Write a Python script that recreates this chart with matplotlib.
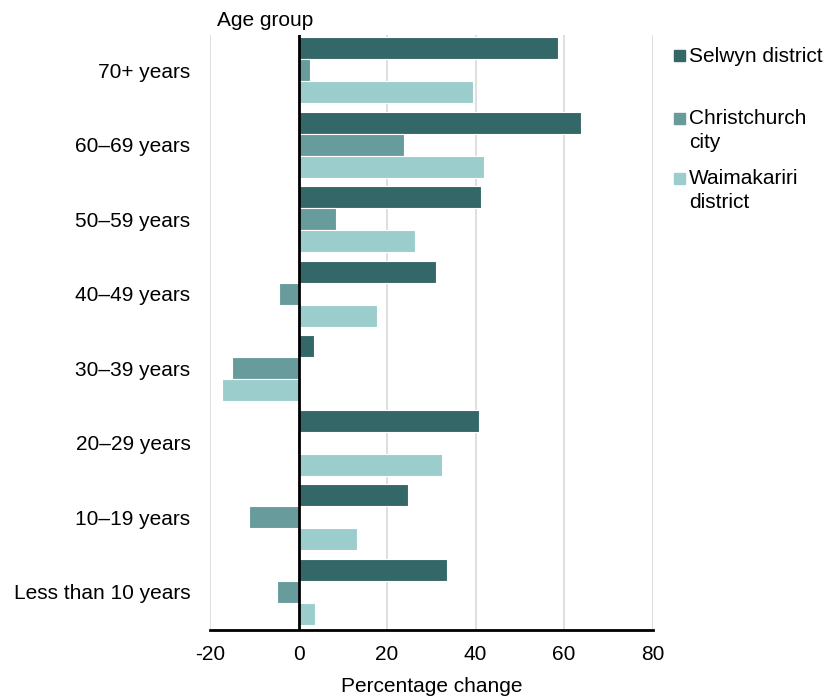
import matplotlib.pyplot as plt
from matplotlib.patches import Rectangle
import numpy as np

plt.rcParams['font.family'] = ['Liberation Sans', 'DejaVu Sans']
plt.rcParams['axes.unicode_minus'] = False

# Данные (снизу вверх)
age_groups = ["Less than 10 years", "10–19 years", "20–29 years", "30–39 years",
              "40–49 years", "50–59 years", "60–69 years", "70+ years"]
selwyn = [33.5, 24.7, 40.7, 3.5, 31.0, 41.2, 63.8, 58.6]
christchurch = [-4.9, -11.2, -0.3, -15.0, -4.4, 8.5, 23.8, 2.6]
waimakariri = [3.7, 13.2, 32.4, -17.3, 17.7, 26.3, 41.9, 39.4]

series_names = ["Selwyn district", "Christchurch\ncity", "Waimakariri\ndistrict"]
colors = ["#346767", "#689b9b", "#9bcdcd"]

FS = 15

fig = plt.figure(figsize=(8.27, 7.0), dpi=100)
ax = fig.add_axes([0.254, 0.1, 0.535, 0.85])

y = np.arange(len(age_groups))
h = 0.295
for vals, off, c in zip([selwyn, christchurch, waimakariri], [h, 0, -h], colors):
    ax.barh(y + off, vals, height=h, color=c, edgecolor="white", linewidth=0.8, zorder=2)

ax.set_xlim(-20, 80)
ax.set_ylim(-0.51, 7.47)
ax.set_xticks([-20, 0, 20, 40, 60, 80])
ax.set_yticks(y)
ax.set_yticklabels(age_groups)
ax.tick_params(axis="both", length=0, labelsize=FS)
ax.tick_params(axis="y", pad=14)
ax.tick_params(axis="x", pad=11)
ax.grid(axis="x", color="#d9d9d9", linewidth=1.2, zorder=0)
ax.axvline(0, color="black", linewidth=2, zorder=3)
for s in ["left", "right", "top"]:
    ax.spines[s].set_visible(False)
ax.spines["bottom"].set_linewidth(2)
ax.spines["bottom"].set_zorder(4)
ax.set_xlabel("Percentage change", fontsize=FS, labelpad=9)

fig.text(217 / 827, 1 - 20 / 700, "Age group", fontsize=FS, va="center", ha="left")

# легенда вручную
W, H = 827, 700
legend_pos = [56, 119, 179]
for name, c, yc in zip(series_names, colors, legend_pos):
    fig.patches.append(Rectangle((674 / W, 1 - (yc + 5) / H), 11 / W, 11 / H,
                                 transform=fig.transFigure, color=c))
    for k, line in enumerate(name.split("\n")):
        fig.text(689 / W, 1 - (yc + k * 23) / H, line, fontsize=FS, va="center", ha="left")

fig.savefig("out.png", dpi=100)
